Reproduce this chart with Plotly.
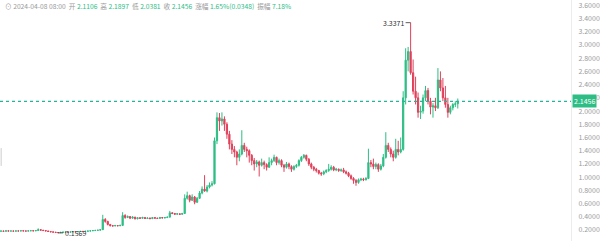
import plotly.graph_objects as go

# ---- data ----
opens = [0.183,0.185,0.182,0.188,0.184,0.186,0.183,0.187,0.185,0.189,0.186,0.184,0.188,0.190,0.187,0.192,
         0.205,0.198,0.192,0.186,0.178,0.172,0.168,0.162,
         0.160,0.165,0.168,0.170,0.168,0.172,0.175,0.173,0.177,0.180,0.178,0.182,0.185,0.188,0.192,0.195,0.198,
         0.205,0.360,0.330,0.285,0.265,0.262,0.268,0.264,0.270,
         0.420,0.390,0.405,0.380,0.395,0.370,0.385,0.378,0.390,0.375,0.382,0.372,0.388,0.380,0.375,0.390,0.383,0.388,
         0.395,0.460,0.450,0.440,0.445,0.438,0.450,
         0.680,0.720,0.650,0.700,0.620,0.680,0.760,0.820,0.790,0.850,0.880,
         0.900,1.550,1.900,1.850,1.880,1.800,1.650,1.500,1.420,1.380,1.300,1.350,1.480,1.420,1.400,
         1.330,1.250,1.200,1.230,1.180,1.220,1.190,1.150,1.220,1.250,1.300,1.220,
         1.250,1.180,1.150,1.200,1.160,1.120,1.160,1.180,1.250,1.300,
         1.330,1.270,1.200,1.150,1.120,1.100,1.060,1.050,1.080,1.100,1.120,
         1.150,1.110,1.120,1.100,1.110,1.080,1.060,1.020,0.980,0.950,
         0.920,0.960,0.970,0.960,0.980,1.220,1.200,1.160,1.190,1.120,1.170,1.300,
         1.480,1.420,1.350,1.300,1.420,1.380,1.420,2.200,2.770,2.900,2.580,2.300,2.200,1.980,
         2.000,2.200,2.310,2.150,2.060,2.080,2.050,2.470,2.350,2.200,2.100,1.980,2.050,2.100,2.1106]
highs = [0.190,0.188,0.191,0.190,0.189,0.188,0.190,0.189,0.192,0.191,0.188,0.191,0.194,0.192,0.196,0.225,
         0.210,0.200,0.195,0.188,0.181,0.175,0.170,0.166,
         0.168,0.171,0.173,0.172,0.175,0.178,0.177,0.180,0.183,0.182,0.185,0.188,0.191,0.195,0.198,0.201,0.212,
         0.430,0.380,0.340,0.290,0.275,0.278,0.272,0.280,0.470,
         0.440,0.420,0.410,0.410,0.400,0.395,0.392,0.400,0.395,0.392,0.388,0.395,0.392,0.385,0.398,0.395,0.395,0.402,
         0.490,0.470,0.458,0.455,0.450,0.460,
         0.740,0.780,0.735,0.740,0.715,0.700,0.790,0.860,1.030,0.880,0.920,0.940,
         1.600,1.980,1.970,1.980,1.920,1.830,1.700,1.560,1.470,1.400,1.420,1.710,1.520,1.460,1.420,
         1.350,1.290,1.260,1.250,1.280,1.250,1.210,1.300,1.280,1.340,1.310,1.280,
         1.270,1.200,1.230,1.220,1.180,1.180,1.200,1.270,1.320,1.350,
         1.340,1.290,1.220,1.170,1.140,1.110,1.080,1.100,1.120,1.200,1.180,
         1.170,1.140,1.130,1.130,1.140,1.100,1.080,1.040,1.000,0.970,
         0.980,0.990,0.990,1.000,1.430,1.260,1.280,1.220,1.210,1.200,1.350,1.680,
         1.520,1.450,1.400,1.580,1.550,1.600,2.300,2.950,2.970,3.3371,2.780,2.520,2.280,
         2.080,2.250,2.380,2.350,2.200,2.120,2.200,2.650,2.600,2.500,2.380,2.200,2.080,2.120,2.150,2.1897]
lows = [0.180,0.179,0.181,0.182,0.182,0.180,0.182,0.182,0.184,0.184,0.181,0.183,0.186,0.185,0.186,0.190,
        0.195,0.189,0.183,0.175,0.169,0.165,0.159,0.1569,
        0.158,0.163,0.166,0.165,0.167,0.170,0.170,0.172,0.175,0.175,0.177,0.180,0.183,0.186,0.190,0.193,0.196,
        0.200,0.310,0.270,0.255,0.255,0.258,0.258,0.260,0.265,
        0.370,0.380,0.365,0.372,0.360,0.362,0.368,0.372,0.368,0.370,0.365,0.368,0.374,0.368,0.370,0.378,0.378,0.384,
        0.392,0.440,0.432,0.436,0.430,0.435,
        0.445,0.660,0.620,0.640,0.590,0.610,0.670,0.740,0.780,0.770,0.830,0.860,
        0.890,1.500,1.700,1.780,1.700,1.580,1.420,1.350,1.300,1.180,1.240,1.330,1.380,1.300,1.220,
        1.180,1.100,1.150,1.010,1.160,1.120,1.100,1.140,1.180,1.230,1.180,1.190,
        1.150,1.080,1.130,1.120,1.080,1.100,1.140,1.160,1.230,1.280,
        1.240,1.170,1.120,1.090,1.070,1.040,1.020,1.030,1.060,1.080,1.100,
        1.090,1.090,1.080,1.080,1.060,1.040,1.000,0.960,0.900,0.870,
        0.900,0.940,0.940,0.950,0.970,1.150,1.120,1.120,1.080,1.100,1.150,1.280,
        1.380,1.300,1.240,1.280,1.330,1.360,1.400,2.100,2.600,2.550,2.250,2.100,1.900,
        1.880,1.960,2.150,2.100,1.950,1.900,2.000,2.030,2.300,2.150,2.050,1.900,1.950,2.010,2.060,2.0381]
closes = [0.185,0.182,0.188,0.184,0.186,0.183,0.187,0.185,0.189,0.186,0.184,0.188,0.190,0.187,0.192,0.205,
          0.198,0.192,0.186,0.178,0.172,0.168,0.162,0.160,
          0.165,0.168,0.170,0.168,0.172,0.175,0.173,0.177,0.180,0.178,0.182,0.185,0.188,0.192,0.195,0.198,0.205,
          0.360,0.330,0.285,0.265,0.262,0.268,0.264,0.270,0.420,
          0.390,0.405,0.380,0.395,0.370,0.385,0.378,0.390,0.375,0.382,0.372,0.388,0.380,0.375,0.390,0.383,0.388,0.395,
          0.460,0.450,0.440,0.445,0.438,0.450,
          0.680,0.720,0.650,0.700,0.620,0.680,0.760,0.820,0.790,0.850,0.880,0.900,
          1.550,1.900,1.850,1.880,1.800,1.650,1.500,1.420,1.380,1.300,1.350,1.480,1.420,1.400,1.330,
          1.250,1.200,1.230,1.180,1.220,1.190,1.150,1.220,1.250,1.300,1.220,1.250,
          1.180,1.150,1.200,1.160,1.120,1.160,1.180,1.250,1.300,1.330,
          1.270,1.200,1.150,1.120,1.100,1.060,1.050,1.080,1.100,1.120,1.150,
          1.110,1.120,1.100,1.110,1.080,1.060,1.020,0.980,0.950,0.920,
          0.960,0.970,0.960,0.980,1.220,1.200,1.160,1.190,1.120,1.170,1.300,1.480,
          1.420,1.350,1.300,1.420,1.380,1.420,2.200,2.770,2.900,2.580,2.300,2.200,1.980,
          2.000,2.200,2.310,2.150,2.060,2.080,2.050,2.470,2.350,2.200,2.100,1.980,2.050,2.100,2.110,2.1456]

tick_vals = [0.2, 0.4, 0.6, 0.8, 1.0, 1.2, 1.4, 1.6, 1.8, 2.0, 2.2, 2.4, 2.6, 2.8, 3.0, 3.2, 3.4, 3.6]
tick_text = ["%.4f" % v for v in tick_vals]
last_price = 2.1456
max_price = 3.3371
min_price = 0.1569
header_items = [("开", "2.1106"), ("高", "2.1897"), ("低", "2.0381"), ("收", "2.1456"),
                ("涨幅", "1.65%(0.0348)"), ("振幅", "7.18%")]
header_time = "2024-04-08 08:00"

GREEN = "#2ebd85"
RED = "#e0405a"
GREY = "#9a9a9a"
LINE_GREEN = "#22b59a"

idx = list(range(len(closes)))
imax = highs.index(max(highs))
imin = lows.index(min(lows))
x_lo, x_hi = -0.4, -0.4 + 575 / 2.5

fig = go.Figure()
# dotted last price line (drawn under the candles)
fig.add_trace(go.Scatter(x=[x_lo, x_hi], y=[last_price, last_price], mode="lines",
                         line=dict(color=LINE_GREEN, width=1.3, dash="3px,3px"),
                         hoverinfo="skip", showlegend=False))
fig.add_trace(go.Candlestick(
    x=idx, open=opens, high=highs, low=lows, close=closes,
    increasing=dict(line=dict(color=GREEN, width=1), fillcolor=GREEN),
    decreasing=dict(line=dict(color=RED, width=1), fillcolor=RED),
    whiskerwidth=0, showlegend=False, hoverinfo="skip"))

fig.update_layout(
    width=600, height=241,
    margin=dict(l=0, r=25, t=0, b=0),
    paper_bgcolor="white", plot_bgcolor="white",
    font=dict(family="Noto Sans CJK SC, Noto Sans, sans-serif", size=7, color=GREY),
    xaxis=dict(range=[x_lo, x_hi], visible=False, rangeslider=dict(visible=False),
               showgrid=False, fixedrange=True),
    yaxis=dict(range=[0.034, 3.68], side="right", showgrid=False, zeroline=False,
               tickvals=tick_vals, ticktext=tick_text, ticks="",
               tickfont=dict(size=7, color=GREY), ticklabelstandoff=5,
               ticklabeloverflow="allow",
               showline=True, linecolor="#ececec", linewidth=1),
)

# last price badge
fig.add_annotation(xref="paper", x=1, yref="y", y=last_price, xanchor="left", yanchor="middle",
                   text="%.4f" % last_price, showarrow=False, bgcolor=GREEN,
                   font=dict(size=7, color="white"), borderpad=1, xshift=1)

# max / min markers
fig.add_annotation(x=imax, y=max_price, text="%.4f" % max_price, showarrow=True, arrowhead=0,
                   arrowwidth=0.8, arrowcolor="#333", ax=-17, ay=0, font=dict(size=7, color="#333"))
fig.add_annotation(x=imin, y=min_price, text="%.4f" % min_price, showarrow=True, arrowhead=0,
                   arrowwidth=0.8, arrowcolor="#333", ax=17, ay=0, font=dict(size=7, color="#333"))

# header
parts = ['<span style="color:%s">%s</span>' % (GREY, header_time)]
for lab, val in header_items:
    parts.append('<span style="color:%s">%s</span> <span style="color:%s">%s</span>' % (GREY, lab, GREEN, val))
fig.add_annotation(xref="paper", yref="paper", x=0, y=1, xanchor="left", yanchor="top",
                   text="\u2299 " + "  ".join(parts), showarrow=False, xshift=3, yshift=1,
                   font=dict(size=6.7, color=GREY))

# small grey mark at left edge
fig.add_shape(type="line", xref="paper", x0=0.002, x1=0.002, yref="y", y0=1.17, y1=1.44,
              line=dict(color="#cccccc", width=1))

fig.write_html("out.html")
